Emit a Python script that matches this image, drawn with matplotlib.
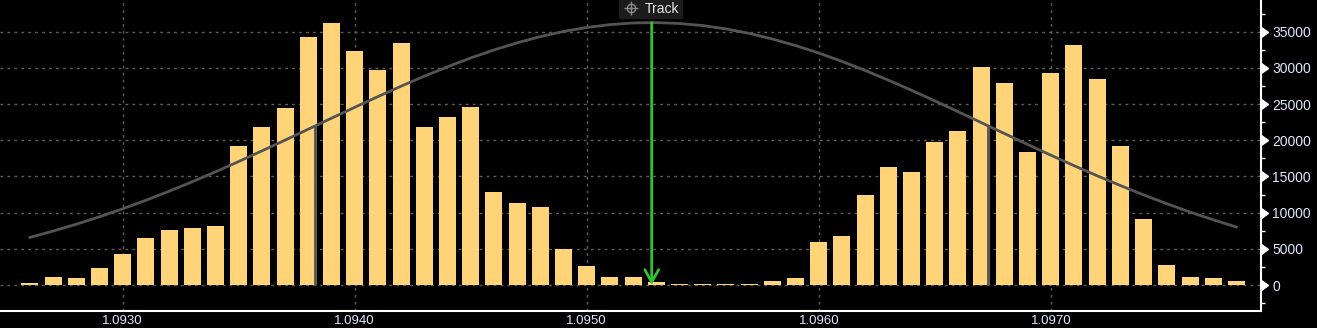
import numpy as np
import matplotlib
matplotlib.use("Agg")
from matplotlib import pyplot as plt
from matplotlib.ticker import MultipleLocator, FixedLocator
import matplotlib.transforms as mtrans

# price bins (centres) and volume per bin
price_start = 1.0926
bin_step = 0.0001
volumes = [276, 1105, 967, 2349, 4283, 6493, 7598, 7875, 8151, 19204,
           21829, 24453, 34262, 36197, 32329, 29704, 33434, 21829, 23210, 24591,
           12848, 11328, 10776, 4973, 2625, 1105, 1105, 414, 138, 138,
           138, 138, 553, 967, 5940, 6769, 12434, 16302, 15611, 19755,
           21275, 30117, 27906, 18374, 29288, 33156, 28459, 19203, 9118, 2763,
           1105, 967, 553]
prices = [round(price_start + i * bin_step, 4) for i in range(len(volumes))]

# fitted curve at each bin centre
curve = [6570, 7450, 8400, 9430, 10530, 11710, 12960, 14270, 15640, 17060,
         18530, 20020, 21530, 23050, 24550, 26030, 27470, 28850, 30150, 31370,
         32470, 33460, 34320, 35030, 35580, 35970, 36200, 36250, 36130, 35840,
         35380, 34760, 33990, 33080, 32050, 30890, 29640, 28300, 26900, 25440,
         23950, 22440, 20930, 19420, 17940, 16490, 15090, 13740, 12450, 11230,
         10080, 9010, 8010]

track_price = 1.09528
track_top = 36250
sigma_prices = [1.09383, 1.09673]
sigma_heights = [21980, 21980]

xticks = [1.0930, 1.0940, 1.0950, 1.0960, 1.0970]
xtick_labels = ["1.0930", "1.0940", "1.0950", "1.0960", "1.0970"]
yticks = [0, 5000, 10000, 15000, 20000, 25000, 30000, 35000]

plt.rcParams['font.family'] = ['Liberation Sans', 'DejaVu Sans']

fig = plt.figure(figsize=(13.17, 3.28), dpi=100, facecolor='black')
ax = fig.add_axes([0, 17 / 328, 1261 / 1317, 311 / 328])
ax.set_facecolor('black')

ax.set_xlim(1.092471, 1.097906)
ax.set_ylim(-3592, 39375)

grid_col = '#5e5e5e'
for y in yticks:
    ax.axhline(y, color=grid_col, lw=1, ls=(0, (2, 3)), zorder=1)
for x in xticks:
    ax.axvline(x, color=grid_col, lw=1, ls=(0, (2, 3)), zorder=1)

ax.bar(prices, volumes, width=0.0000733, color='#ffd479', zorder=2)
ax.plot(prices, curve, color='#545454', lw=2, zorder=3)
ax.vlines(sigma_prices, 0, sigma_heights, color='#545454', lw=2, zorder=3)

# track arrow
ax.annotate('', xy=(track_price, 0), xytext=(track_price, track_top),
            arrowprops=dict(arrowstyle='->,head_length=0.9,head_width=0.5',
                            color='#2fc42f', lw=2, shrinkA=0, shrinkB=0),
            zorder=5)

# spines
for s in ['left', 'top']:
    ax.spines[s].set_visible(False)
ax.spines['right'].set_color('white')
ax.spines['right'].set_linewidth(1.5)
ax.spines['bottom'].set_color('white')
ax.spines['bottom'].set_linewidth(1.5)

lab_col = '#dfe8fb'
ax.set_xticks(xticks)
ax.set_xticklabels(xtick_labels)
ax.tick_params(axis='x', length=0, pad=3, labelsize=9.5, colors=lab_col)

ax.yaxis.tick_right()
ax.yaxis.set_major_locator(FixedLocator(yticks))
ax.yaxis.set_minor_locator(MultipleLocator(2500))
ax.tick_params(axis='y', which='major', length=0, pad=8, labelsize=10,
               colors=lab_col, labelright=True, labelleft=False)
ax.tick_params(axis='y', which='minor', length=3, width=1, color='white',
               direction='out', right=True, left=False)

# caret markers on the axis at major ticks
trans = mtrans.blended_transform_factory(ax.transAxes, ax.transData)
ax.plot([1.0] * len(yticks), yticks, ls='none', marker=9, ms=7,
        color='white', transform=trans, clip_on=False, zorder=6)

# "Track" label box
fig.patches.append(plt.Rectangle((619 / 1317, 1 - 18 / 328), 63 / 1317, 18 / 328,
                                 transform=fig.transFigure, color='#1c1c1c',
                                 zorder=0))
fig.text(645 / 1317, 1 - 9 / 328, 'Track', color='#e8e8e8', fontsize=10,
         va='center', ha='left')
fig.lines.append(plt.Line2D([631 / 1317], [1 - 8 / 328], marker='o', ms=6,
                            mfc='none', mec='#8a8a8a', mew=1,
                            transform=fig.transFigure))
fig.lines.append(plt.Line2D([631 / 1317], [1 - 8 / 328], marker='+', ms=10,
                            mec='#8a8a8a', mew=1, transform=fig.transFigure))

fig.savefig('out.png', dpi=100, facecolor='black')
